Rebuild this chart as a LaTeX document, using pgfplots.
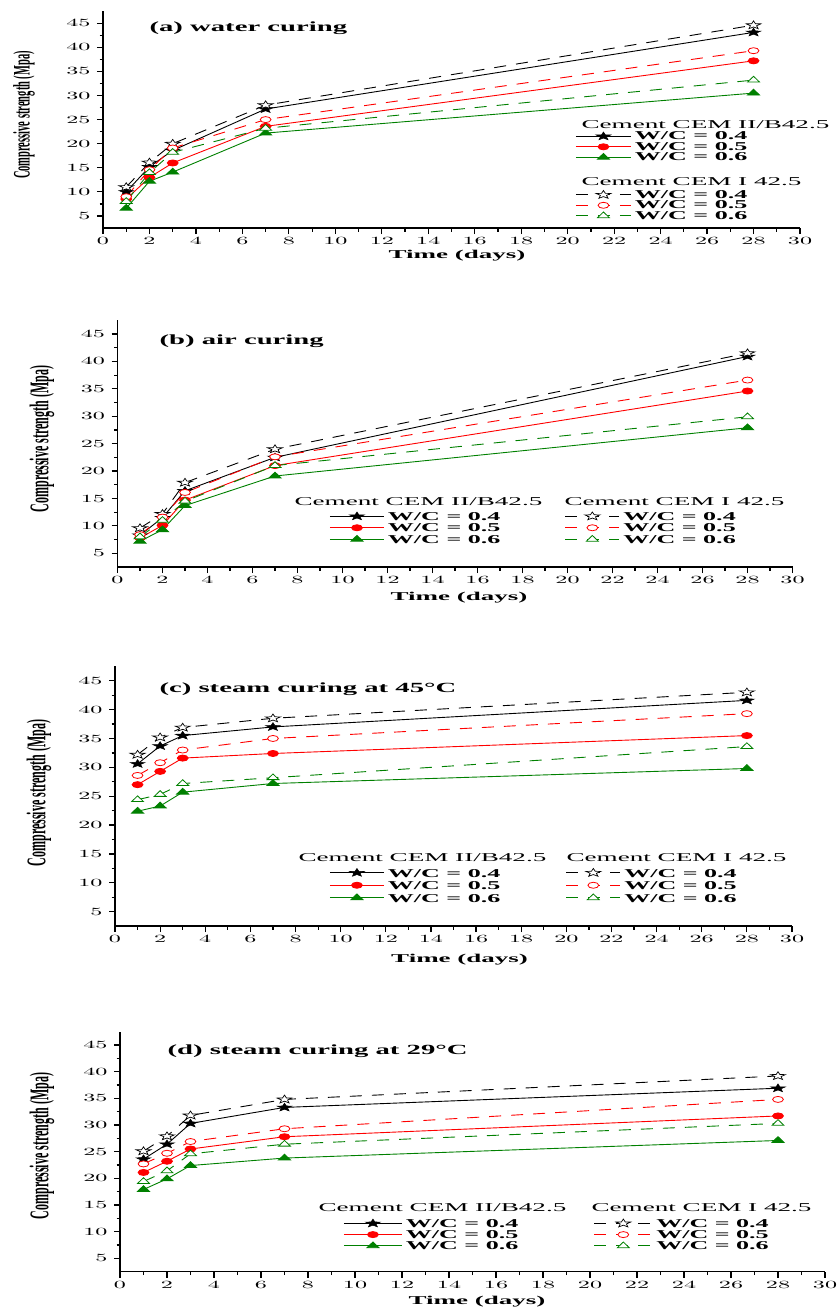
\documentclass[border=0pt]{standalone}
\usepackage{fontspec}
\setmainfont{Liberation Serif}
\usepackage{pgfplots}
\usepackage{pgfplotstable}
\pgfplotsset{compat=1.18}
\usepackage{graphicx}

\definecolor{mygreen}{RGB}{0,128,0}

\pgfdeclareplotmark{fstar}{%
  \pgfpathmoveto{\pgfpointpolar{90}{\pgfplotmarksize}}%
  \pgfpathlineto{\pgfpointpolar{126}{0.42\pgfplotmarksize}}%
  \pgfpathlineto{\pgfpointpolar{162}{\pgfplotmarksize}}%
  \pgfpathlineto{\pgfpointpolar{198}{0.42\pgfplotmarksize}}%
  \pgfpathlineto{\pgfpointpolar{234}{\pgfplotmarksize}}%
  \pgfpathlineto{\pgfpointpolar{270}{0.42\pgfplotmarksize}}%
  \pgfpathlineto{\pgfpointpolar{306}{\pgfplotmarksize}}%
  \pgfpathlineto{\pgfpointpolar{342}{0.42\pgfplotmarksize}}%
  \pgfpathlineto{\pgfpointpolar{18}{\pgfplotmarksize}}%
  \pgfpathlineto{\pgfpointpolar{54}{0.42\pgfplotmarksize}}%
  \pgfpathclose
  \pgfusepathqfillstroke}

\newcommand\sx[2]{\scalebox{#1}[1]{#2}}
\newcommand\tickfont{\fontsize{11.3}{11.3}\selectfont\bfseries}
\newcommand\legfont{\fontsize{12}{12}\selectfont\bfseries}
\newcommand\headfont{\fontsize{12}{12}\selectfont}
\newcommand\titfont{\fontsize{14}{14}\selectfont\bfseries}
\newcommand\labfont{\fontsize{12}{12}\selectfont\bfseries}

\pgfplotstableread{
t a4 a5 a6 b4 b5 b6
1 10.0 8.5 6.6 11.0 9.0 8.0
2 15.2 13.0 12.2 16.1 14.6 14.0
3 18.6 16.0 14.1 20.0 19.1 18.2
7 27.2 23.6 22.2 28.0 25.0 23.2
28 43.1 37.2 30.5 44.6 39.3 33.2
}\dataA
\pgfplotstableread{
t a4 a5 a6 b4 b5 b6
1 8.3 7.8 7.2 9.6 8.4 8.0
2 11.5 10.1 9.3 12.2 11.6 11.0
3 16.4 14.7 13.7 17.9 16.1 14.5
7 22.5 21.0 19.1 24.0 22.6 21.0
28 40.9 34.6 27.9 41.5 36.6 29.9
}\dataB
\pgfplotstableread{
t a4 a5 a6 b4 b5 b6
1 30.6 27.0 22.4 32.2 28.6 24.4
2 33.7 29.3 23.3 35.2 30.8 25.3
3 35.5 31.6 25.7 36.9 33.0 27.2
7 37.0 32.4 27.2 38.5 35.0 28.2
28 41.6 35.5 29.8 43.0 39.3 33.6
}\dataC
\pgfplotstableread{
t a4 a5 a6 b4 b5 b6
1 23.6 21.1 17.9 25.1 22.7 19.4
2 26.4 23.2 19.9 27.9 24.7 21.4
3 30.3 25.5 22.4 31.8 26.9 24.6
7 33.3 27.8 23.8 34.8 29.3 26.4
28 36.9 31.7 27.1 39.2 34.8 30.3
}\dataD

\pgfplotsset{
  S4/.style={black, line width=0.9pt, mark=fstar, mark size=4.3pt, mark options={solid, fill=black, xscale=1.8, line width=0.5pt}},
  S5/.style={red, line width=0.9pt, mark=*, mark size=3pt, mark options={solid, fill=red, xscale=1.8}},
  S6/.style={mygreen, line width=0.9pt, mark=triangle*, mark size=3.8pt, mark options={solid, fill=mygreen, xscale=1.8}},
  D4/.style={black, line width=0.9pt, dash pattern=on 12pt off 10pt, mark=fstar, mark size=4.3pt, mark options={solid, fill=white, xscale=1.8, line width=0.7pt}},
  D5/.style={red, line width=0.9pt, dash pattern=on 12pt off 10pt, mark=*, mark size=3pt, mark options={solid, fill=white, xscale=1.8, line width=0.8pt}},
  D6/.style={mygreen, line width=0.9pt, dash pattern=on 12pt off 10pt, mark=triangle*, mark size=3.8pt, mark options={solid, fill=white, xscale=1.8, line width=0.8pt}},
  panel/.style={
    scale only axis, anchor=south west, clip=false,
    xmin=0, xmax=30, ymin=2.5, ymax=47.5,
    axis x line*=bottom, axis y line*=left,
    axis line style={-, line width=1.4pt},
    xtick={0,2,...,30}, ytick={5,10,...,45},
    minor x tick num=1, minor y tick num=1,
    tick align=outside,
    major tick length=6pt, minor tick length=3.5pt,
    tick style={black, line width=1.2pt},
    minor tick style={black, line width=1.2pt},
    tick label style={font=\tickfont},
    xticklabel={\sx{2.2}{\pgfmathprintnumber{\tick}}},
    yticklabel={\sx{2.2}{\pgfmathprintnumber{\tick}}},
    yticklabel style={xshift=-3pt},
    legend cell align=left,
    legend style={draw=none, fill=none, inner sep=0pt, outer sep=0pt, anchor=north west,
      font=\legfont, row sep=0pt, nodes={inner sep=0.5pt},
      /tikz/every odd column/.append style={column sep=3pt}},
  }
}

\begin{document}
\begin{tikzpicture}
\useasboundingbox (0pt,0pt) rectangle (838pt,-1311pt);

% ---------------- (a)
\begin{axis}[panel, at={(103pt,-228pt)}, width=697pt, height=216.8pt,
  legend style={at={(axis description cs:0.6779,0.4472)}},
  legend image code/.code={\draw[mark repeat=2,mark phase=2,#1] plot coordinates {(0pt,0pt) (27.5pt,0pt) (55pt,0pt)};}]
\addplot[S4, forget plot] table[x=t,y=a4] {\dataA};
\addplot[S5, forget plot] table[x=t,y=a5] {\dataA};
\addplot[S6, forget plot] table[x=t,y=a6] {\dataA};
\addplot[D4, forget plot] table[x=t,y=b4] {\dataA};
\addplot[D5, forget plot] table[x=t,y=b5] {\dataA};
\addplot[D6, forget plot] table[x=t,y=b6] {\dataA};
\addlegendimage{S4}\addlegendentry{\rule[-2pt]{0pt}{10pt}\sx{2.17}{W/C = 0.4}}
\addlegendimage{S5}\addlegendentry{\rule[-2pt]{0pt}{10pt}\sx{2.17}{W/C = 0.5}}
\addlegendimage{S6}\addlegendentry{\rule[-2pt]{0pt}{10pt}\sx{2.17}{W/C = 0.6}}
\addlegendimage{empty legend}\addlegendentry{\rule[-2pt]{0pt}{26.5pt}}
\addlegendimage{D4}\addlegendentry{\rule[-2pt]{0pt}{10pt}\sx{2.17}{W/C = 0.4}}
\addlegendimage{D5}\addlegendentry{\rule[-2pt]{0pt}{10pt}\sx{2.17}{W/C = 0.5}}
\addlegendimage{D6}\addlegendentry{\rule[-2pt]{0pt}{10pt}\sx{2.17}{W/C = 0.6}}
\end{axis}
\node[anchor=west, font=\titfont] at (146pt,-28pt) {\sx{2.05}{(a) water curing}};
\node[anchor=west, font=\headfont] at (578pt,-125pt) {\sx{2.26}{Cement CEM II/B42.5}};
\node[anchor=west, font=\headfont] at (578pt,-181.5pt) {\sx{2.26}{Cement CEM I 42.5}};
\node[font=\labfont] at (457pt,-256pt) {\sx{2.25}{Time (days)}};
\node[rotate=90, font=\fontsize{10.5}{10.5}\selectfont\bfseries] at (24pt,-115pt) {\scalebox{1}[2.25]{Compressive strength (Mpa)}};

% ---------------- (b)
\begin{axis}[panel, at={(117.5pt,-567pt)}, width=675pt, height=246.7pt,
  legend columns=2,
  legend style={at={(axis description cs:0.3141,0.229)}, /tikz/every even column/.append style={column sep=64pt}},
  legend image code/.code={\draw[mark repeat=2,mark phase=2,#1] plot coordinates {(0pt,0pt) (27pt,0pt) (54pt,0pt)};}]
\addplot[S4, forget plot] table[x=t,y=a4] {\dataB};
\addplot[S5, forget plot] table[x=t,y=a5] {\dataB};
\addplot[S6, forget plot] table[x=t,y=a6] {\dataB};
\addplot[D4, forget plot] table[x=t,y=b4] {\dataB};
\addplot[D5, forget plot] table[x=t,y=b5] {\dataB};
\addplot[D6, forget plot] table[x=t,y=b6] {\dataB};
\addlegendimage{S4}\addlegendentry{\rule[-3pt]{0pt}{12pt}\sx{2.17}{W/C = 0.4}}
\addlegendimage{D4}\addlegendentry{\rule[-3pt]{0pt}{12pt}\sx{2.17}{W/C = 0.4}}
\addlegendimage{S5}\addlegendentry{\rule[-3pt]{0pt}{12pt}\sx{2.17}{W/C = 0.5}}
\addlegendimage{D5}\addlegendentry{\rule[-3pt]{0pt}{12pt}\sx{2.17}{W/C = 0.5}}
\addlegendimage{S6}\addlegendentry{\rule[-3pt]{0pt}{12pt}\sx{2.17}{W/C = 0.6}}
\addlegendimage{D6}\addlegendentry{\rule[-3pt]{0pt}{12pt}\sx{2.17}{W/C = 0.6}}
\end{axis}
\node[anchor=west, font=\titfont] at (156pt,-340.7pt) {\sx{2.05}{(b) air curing}};
\node[anchor=west, font=\headfont] at (291pt,-501.7pt) {\sx{2.26}{Cement CEM II/B42.5}};
\node[anchor=west, font=\headfont] at (561pt,-501.7pt) {\sx{2.26}{Cement CEM I 42.5}};
\node[font=\labfont] at (459pt,-597.7pt) {\sx{2.25}{Time (days)}};
\node[rotate=90, font=\fontsize{12}{12}\selectfont\bfseries] at (42pt,-439pt) {\scalebox{1}[2.25]{Compressive strength (Mpa)}};

% ---------------- (c)
\begin{axis}[panel, at={(115pt,-926.1pt)}, width=677pt, height=259.8pt,
  legend columns=2,
  legend style={at={(axis description cs:0.3168,0.2294)}, /tikz/every even column/.append style={column sep=65pt}},
  legend image code/.code={\draw[mark repeat=2,mark phase=2,#1] plot coordinates {(0pt,0pt) (27pt,0pt) (54pt,0pt)};}]
\addplot[S4, forget plot] table[x=t,y=a4] {\dataC};
\addplot[S5, forget plot] table[x=t,y=a5] {\dataC};
\addplot[S6, forget plot] table[x=t,y=a6] {\dataC};
\addplot[D4, forget plot] table[x=t,y=b4] {\dataC};
\addplot[D5, forget plot] table[x=t,y=b5] {\dataC};
\addplot[D6, forget plot] table[x=t,y=b6] {\dataC};
\addlegendimage{S4}\addlegendentry{\rule[-3pt]{0pt}{13pt}\sx{2.17}{W/C = 0.4}}
\addlegendimage{D4}\addlegendentry{\rule[-3pt]{0pt}{13pt}\sx{2.17}{W/C = 0.4}}
\addlegendimage{S5}\addlegendentry{\rule[-3pt]{0pt}{13pt}\sx{2.17}{W/C = 0.5}}
\addlegendimage{D5}\addlegendentry{\rule[-3pt]{0pt}{13pt}\sx{2.17}{W/C = 0.5}}
\addlegendimage{S6}\addlegendentry{\rule[-3pt]{0pt}{13pt}\sx{2.17}{W/C = 0.6}}
\addlegendimage{D6}\addlegendentry{\rule[-3pt]{0pt}{13pt}\sx{2.17}{W/C = 0.6}}
\end{axis}
\node[anchor=west, font=\titfont] at (156pt,-689pt) {\sx{2.05}{(c) steam curing at 45°C}};
\node[anchor=west, font=\headfont] at (295pt,-858pt) {\sx{2.26}{Cement CEM II/B42.5}};
\node[anchor=west, font=\headfont] at (563pt,-858pt) {\sx{2.26}{Cement CEM I 42.5}};
\node[font=\labfont] at (459.6pt,-960pt) {\sx{2.25}{Time (days)}};
\node[rotate=90, font=\fontsize{12}{12}\selectfont\bfseries] at (39pt,-793pt) {\scalebox{1}[2.25]{Compressive strength (Mpa)}};

% ---------------- (d)
\begin{axis}[panel, at={(120pt,-1271.6pt)}, width=705pt, height=239.9pt,
  legend columns=2,
  legend style={at={(axis description cs:0.3170,0.2243)}, /tikz/every even column/.append style={column sep=75pt}},
  legend image code/.code={\draw[mark repeat=2,mark phase=2,#1] plot coordinates {(0pt,0pt) (29pt,0pt) (58pt,0pt)};}]
\addplot[S4, forget plot] table[x=t,y=a4] {\dataD};
\addplot[S5, forget plot] table[x=t,y=a5] {\dataD};
\addplot[S6, forget plot] table[x=t,y=a6] {\dataD};
\addplot[D4, forget plot] table[x=t,y=b4] {\dataD};
\addplot[D5, forget plot] table[x=t,y=b5] {\dataD};
\addplot[D6, forget plot] table[x=t,y=b6] {\dataD};
\addlegendimage{S4}\addlegendentry{\rule[-3pt]{0pt}{11.7pt}\sx{2.17}{W/C = 0.4}}
\addlegendimage{D4}\addlegendentry{\rule[-3pt]{0pt}{11.7pt}\sx{2.17}{W/C = 0.4}}
\addlegendimage{S5}\addlegendentry{\rule[-3pt]{0pt}{11.7pt}\sx{2.17}{W/C = 0.5}}
\addlegendimage{D5}\addlegendentry{\rule[-3pt]{0pt}{11.7pt}\sx{2.17}{W/C = 0.5}}
\addlegendimage{S6}\addlegendentry{\rule[-3pt]{0pt}{11.7pt}\sx{2.17}{W/C = 0.6}}
\addlegendimage{D6}\addlegendentry{\rule[-3pt]{0pt}{11.7pt}\sx{2.17}{W/C = 0.6}}
\end{axis}
\node[anchor=west, font=\titfont] at (164pt,-1051pt) {\sx{2.05}{(d) steam curing at 29°C}};
\node[anchor=west, font=\headfont] at (315pt,-1208pt) {\sx{2.26}{Cement CEM II/B42.5}};
\node[anchor=west, font=\headfont] at (588pt,-1208pt) {\sx{2.26}{Cement CEM I 42.5}};
\node[font=\labfont] at (477pt,-1302pt) {\sx{2.25}{Time (days)}};
\node[rotate=90, font=\fontsize{12}{12}\selectfont\bfseries] at (42pt,-1146pt) {\scalebox{1}[2.25]{Compressive strength (Mpa)}};
\end{tikzpicture}
\end{document}
